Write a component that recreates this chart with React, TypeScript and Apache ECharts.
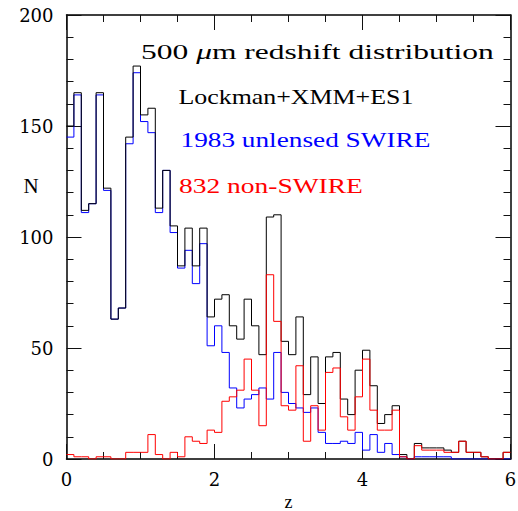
import React, { useEffect, useRef } from 'react';
import * as echarts from 'echarts';

const BIN_WIDTH = 0.1;
const totalCounts = [150,165,112,115,165,122,63,68,145,177,155,158,113,130,105,87,104,87,104,64,72,74,60,54,72,60,47,109,110,53,47,64,29,46,25,46,48,27,20,40,49,33,16,20,24,2,0,7,5,5,5,4,3,8,3,3,1,0,0,3];
const swireCounts = [145,164,111,115,164,121,63,68,142,174,152,147,111,130,102,86,94,79,97,51,60,48,32,23,27,29,32,27,48,30,25,23,21,23,12,7,7,8,7,12,4,11,3,7,2,1,0,1,1,1,1,1,0,0,0,0,0,0,0,0];
const nonSwireCounts = [2,1,1,0,1,1,0,0,3,3,3,11,2,0,3,1,10,8,7,13,12,26,28,31,45,31,15,83,62,24,22,42,8,24,13,39,41,19,13,28,45,22,13,13,22,1,0,6,4,4,4,3,3,8,3,3,1,0,0,3];

const titleText = '500 μm redshift distribution';
const legendTexts = ['Lockman+XMM+ES1', '1983 unlensed SWIRE', '832 non-SWIRE'];
const xTicks = { min: 0, max: 6, interval: 2 };
const yTicks = { min: 0, max: 200, interval: 50 };

const FONT = 'Liberation Serif';

function toSteps(counts: number[]) {
  const pts = counts.map((c, i) => [i * BIN_WIDTH, c]);
  pts.push([counts.length * BIN_WIDTH, counts[counts.length - 1]]);
  return pts;
}

function measure(text: string, size: number) {
  const ctx = document.createElement('canvas').getContext('2d')!;
  ctx.font = `${size}px "${FONT}"`;
  return ctx.measureText(text).width;
}

export default function App() {
  const ref = useRef<HTMLDivElement>(null);
  useEffect(() => {
    const chart = echarts.init(ref.current!, null, { renderer: 'svg' });
    const fs = 20;
    const makeText = (text: string, x: number, y: number, w: number, color: string, rich?: any) => {
      const plain = text.replace(/\{i\|(.*?)\}/g, '$1');
      const sx = w / measure(plain, fs);
      return {
        type: 'text',
        x,
        y,
        scaleX: sx,
        scaleY: 1,
        silent: true,
        style: {
          text,
          fill: color,
          fontFamily: FONT,
          fontSize: fs,
          align: 'left',
          verticalAlign: 'middle',
          rich,
        },
      };
    };
    const axisBase = {
      type: 'value',
      axisLine: { show: true, onZero: false, lineStyle: { color: '#000', width: 1.5 } },
      axisTick: { show: true, inside: true, length: 15, lineStyle: { color: '#111', width: 1 } },
      splitLine: { show: false },
      minorSplitLine: { show: false },
    };
    const labelStyle = { color: '#000', fontFamily: 'DejaVu Serif', fontSize: 18 };
    chart.setOption({
      animation: false,
      backgroundColor: '#fff',
      grid: { left: 66.5, top: 15, width: 444, height: 444, containLabel: false, outerBoundsMode: 'none' },
      xAxis: [
        {
          ...axisBase,
          position: 'bottom',
          min: xTicks.min,
          max: xTicks.max,
          interval: xTicks.interval,
          minorTick: { show: true, splitNumber: 4, length: 7, lineStyle: { color: '#111', width: 1 } },
          axisLabel: { ...labelStyle, margin: 11 },
          name: 'z',
          nameLocation: 'middle',
          nameGap: 29,
          nameTextStyle: { color: '#000', fontFamily: FONT, fontSize: 18, lineHeight: 18 },
        },
        {
          ...axisBase,
          position: 'top',
          min: xTicks.min,
          max: xTicks.max,
          interval: xTicks.interval,
          minorTick: { show: true, splitNumber: 4, length: 7, lineStyle: { color: '#111', width: 1 } },
          axisLabel: { show: false },
        },
      ],
      yAxis: [
        {
          ...axisBase,
          position: 'left',
          min: yTicks.min,
          max: yTicks.max,
          interval: yTicks.interval,
          minorTick: { show: true, splitNumber: 5, length: 7, lineStyle: { color: '#111', width: 1 } },
          axisLabel: { ...labelStyle, margin: 13 },
        },
        {
          ...axisBase,
          position: 'right',
          min: yTicks.min,
          max: yTicks.max,
          interval: yTicks.interval,
          minorTick: { show: true, splitNumber: 5, length: 7, lineStyle: { color: '#111', width: 1 } },
          axisLabel: { show: false },
        },
      ],
      series: [
        {
          name: '1983 unlensed SWIRE',
          type: 'line',
          step: 'end',
          xAxisIndex: 0,
          yAxisIndex: 0,
          data: toSteps(swireCounts),
          showSymbol: false,
          symbol: 'none',
          lineStyle: { color: '#0000ff', width: 1 },
          z: 2,
        },
        {
          name: 'Lockman+XMM+ES1',
          type: 'line',
          step: 'end',
          xAxisIndex: 0,
          yAxisIndex: 0,
          data: toSteps(totalCounts),
          showSymbol: false,
          symbol: 'none',
          lineStyle: { color: '#000000', width: 1 },
          z: 3,
        },
        {
          name: '832 non-SWIRE',
          type: 'line',
          step: 'end',
          xAxisIndex: 0,
          yAxisIndex: 0,
          data: toSteps(nonSwireCounts),
          showSymbol: false,
          symbol: 'none',
          lineStyle: { color: '#ff0000', width: 1 },
          z: 4,
        },
      ],
      graphic: [
        {
          type: 'text',
          x: 31,
          y: 185.5,
          silent: true,
          style: { text: 'N', fill: '#000', fontFamily: FONT, fontSize: 21, align: 'center', verticalAlign: 'middle' },
        },
        makeText(titleText.replace('μ', '{i|μ}'), 141, 52.5, 354, '#000', { i: { fontStyle: 'italic', fontFamily: FONT, fontSize: fs, fill: '#000' } }),
        makeText(legendTexts[0], 178.5, 97.3, 235, '#000'),
        makeText(legendTexts[1], 180.5, 140.5, 250, '#0000ff'),
        makeText(legendTexts[2], 179, 186, 184, '#ff0000'),
      ],
    });
    return () => chart.dispose();
  }, []);
  return <div ref={ref} style={{ width: 518, height: 511, position: 'absolute', left: 0, top: 0 }} />;
}
